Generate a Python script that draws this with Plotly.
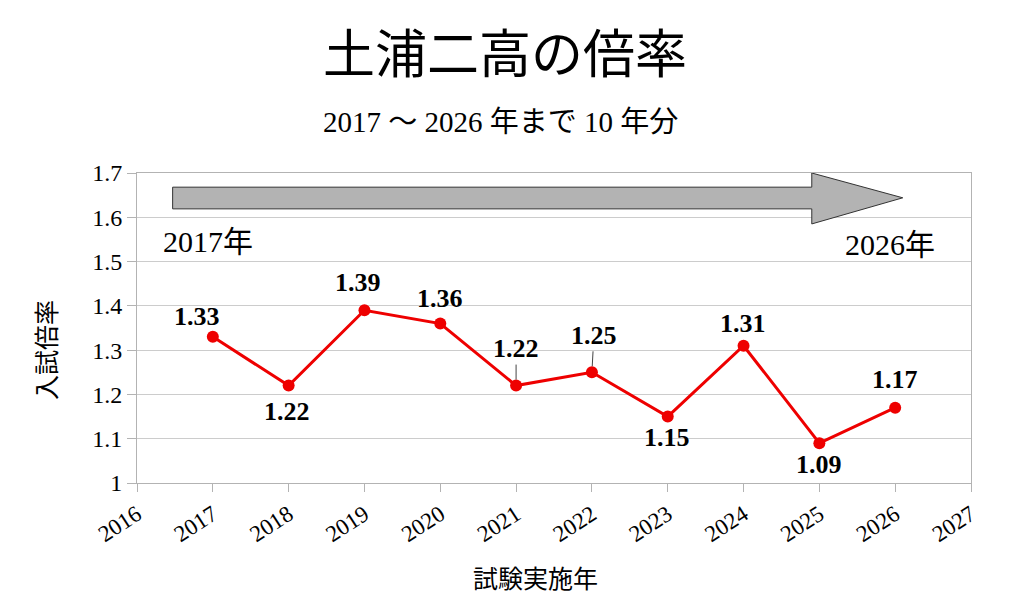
import plotly.graph_objects as go

# -------------------------------
# DATA
# -------------------------------
years = [2017, 2018, 2019, 2020, 2021, 2022, 2023, 2024, 2025, 2026]
ratios = [1.33, 1.22, 1.39, 1.36, 1.22, 1.25, 1.15, 1.31, 1.09, 1.17]

# label offsets (px) relative to each marker
label_dx = [-16, -2, -6, 0, 0, 2, -1, -1, 0, 0]
label_dy = [-20, 26, -28, -25, -37, -37, 21, -22, 21, -28]
leader = [False, False, False, False, True, True, False, False, False, False]

x_ticks = list(range(2016, 2028))
y_ticks = [1, 1.1, 1.2, 1.3, 1.4, 1.5, 1.6, 1.7]
y_tick_text = ["1", "1.1", "1.2", "1.3", "1.4", "1.5", "1.6", "1.7"]

serif = "Liberation Serif, Times New Roman, serif"
jp = "Liberation Serif, Noto Sans CJK JP, serif"
jp_sans = "Noto Sans CJK JP"

# -------------------------------
# FIGURE
# -------------------------------
fig = go.Figure()

fig.add_trace(
    go.Scatter(
        x=years,
        y=ratios,
        mode='lines+markers',
        line=dict(color='#ee0000', width=3),
        marker=dict(color='#ee0000', size=12),
        showlegend=False,
        hoverinfo='skip'
    )
)

# data labels
for x, y, dx, dy, ld in zip(years, ratios, label_dx, label_dy, leader):
    fig.add_annotation(
        x=x, y=y, text=f"<b>{y:.2f}</b>",
        showarrow=ld, arrowhead=0, arrowwidth=1, arrowcolor='#444',
        standoff=6,
        ax=dx, ay=dy,
        xshift=0 if ld else dx, yshift=0 if ld else -dy,
        font=dict(family=serif, size=26, color='black')
    )

# big gray arrow
fig.add_shape(
    type='path',
    xref='x', yref='y',
    path="M 2016.47,1.619 L 2024.9,1.619 L 2024.9,1.585 L 2026.1,1.644 "
         "L 2024.9,1.70 L 2024.9,1.668 L 2016.47,1.668 Z",
    fillcolor='#b3b3b3',
    line=dict(color='#333333', width=1)
)

fig.add_annotation(x=2016.93, y=1.545, text="2017年", showarrow=False,
                   font=dict(family=jp, size=30, color='black'))
fig.add_annotation(x=2025.93, y=1.538, text="2026年", showarrow=False,
                   font=dict(family=jp, size=30, color='black'))

# titles
fig.add_annotation(xref='paper', yref='paper', x=0.5, y=1, xanchor='center', yanchor='middle',
                   xshift=-49, yshift=123, text="土浦二高の倍率", showarrow=False,
                   font=dict(family=jp_sans, size=52, color='black'))
fig.add_annotation(xref='paper', yref='paper', x=0.5, y=1, xanchor='center', yanchor='middle',
                   xshift=-54, yshift=51, text="2017 ～ 2026 年まで 10 年分", showarrow=False,
                   font=dict(family=jp, size=29, color='black'))

# axis titles
fig.add_annotation(xref='paper', yref='paper', x=0.5, y=0, xanchor='center', yanchor='middle',
                   xshift=-19, yshift=-94, text="試験実施年", showarrow=False,
                   font=dict(family=jp_sans, size=25, color='black'))
fig.add_annotation(xref='paper', yref='paper', x=0, y=0.5, xanchor='center', yanchor='middle',
                   xshift=-92, yshift=-22, text="入試倍率", textangle=-90, showarrow=False,
                   font=dict(family=jp_sans, size=25, color='black'))

# -------------------------------
# LAYOUT
# -------------------------------
fig.update_layout(
    width=1008,
    height=598,
    margin=dict(l=129, r=45, t=165, b=123),
    plot_bgcolor='white',
    paper_bgcolor='white',
    font=dict(family=serif, color='black')
)

fig.update_xaxes(
    range=[2016, 2027],
    tickvals=x_ticks,
    tickangle=-33,
    tickfont=dict(family=serif, size=23, color='black'),
    ticks='outside', ticklen=8, tickcolor='#b3b3b3',
    showgrid=False,
    showline=True, linecolor='#b3b3b3', mirror=True,
    zeroline=False
)

fig.update_yaxes(
    range=[1, 1.7],
    tickvals=y_ticks,
    ticktext=y_tick_text,
    tickfont=dict(family=serif, size=24, color='black'),
    ticks='outside', ticklen=9, tickcolor='#b3b3b3',
    showgrid=True, gridcolor='#cccccc',
    showline=True, linecolor='#b3b3b3', mirror=True,
    zeroline=False
)

fig.write_html("out.html")
